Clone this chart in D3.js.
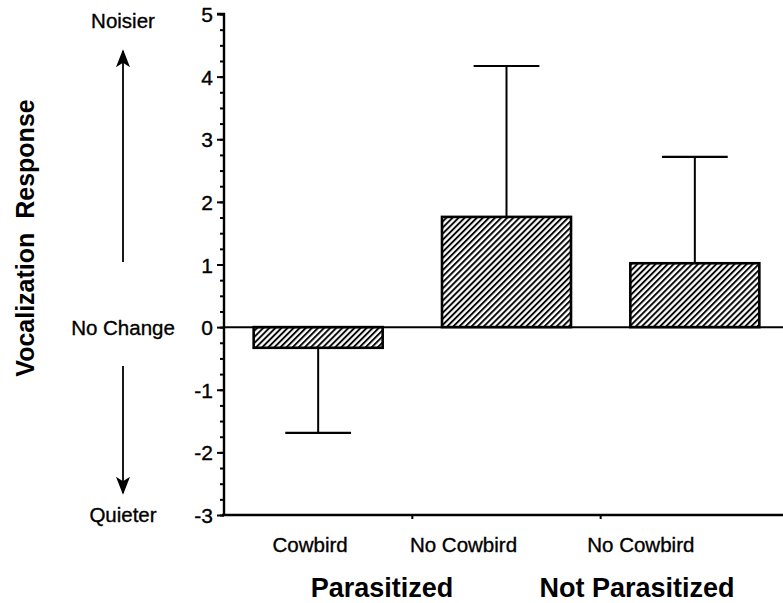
<!DOCTYPE html>
<html><head><meta charset="utf-8">
<script src="https://cdn.jsdelivr.net/npm/d3@7"></script>
<style>
html,body{margin:0;padding:0;background:#fff;}
text{font-family:"Liberation Sans",Arial,Helvetica,sans-serif;fill:#000;}
.reg{stroke:#000;stroke-width:0.35px;}
</style></head>
<body>
<svg id="chart" width="783" height="603"></svg>
<script>
// ---- data ----
const categories = ["Cowbird", "No Cowbird", "No Cowbird"];
const groups = ["Parasitized", "Not Parasitized"];
const means = [-0.33, 1.76, 1.02];
const errorEnds = [-1.69, 4.17, 2.72];
const yTicks = [-3, -2, -1, 0, 1, 2, 3, 4, 5];

// ---- layout ----
const svg = d3.select("#chart");
const y = d3.scaleLinear().domain([-3, 5]).range([515, 14]);
const x = d3.scaleBand().domain(d3.range(categories.length)).range([224, 789]).paddingInner(0).paddingOuter(0);
const barW = x.bandwidth() * 0.685;
const capW = barW * 0.51;

// hatch pattern
const defs = svg.append("defs");
const pat = defs.append("pattern").attr("id", "hatch")
  .attr("patternUnits", "userSpaceOnUse").attr("width", 4.3).attr("height", 10)
  .attr("patternTransform", "rotate(45)");
pat.append("rect").attr("width", 4.3).attr("height", 10).attr("fill", "#fff");
pat.append("line").attr("x1", 1).attr("x2", 1).attr("y1", 0).attr("y2", 10)
  .attr("stroke", "#000").attr("stroke-width", 1.9);

// error bars (drawn under bars)
const eb = svg.append("g");
categories.forEach((c, i) => {
  const cx = x(i) + x.bandwidth() / 2;
  eb.append("line").attr("x1", cx).attr("x2", cx)
    .attr("y1", y(means[i])).attr("y2", y(errorEnds[i]))
    .attr("stroke", "#000").attr("stroke-width", 2);
  eb.append("line").attr("x1", cx - capW / 2).attr("x2", cx + capW / 2)
    .attr("y1", y(errorEnds[i])).attr("y2", y(errorEnds[i]))
    .attr("stroke", "#000").attr("stroke-width", 2.2);
});

// bars
svg.append("g").selectAll("rect").data(means).join("rect")
  .attr("x", (d, i) => x(i) + (x.bandwidth() - barW) / 2)
  .attr("width", barW)
  .attr("y", d => Math.min(y(d), y(0)))
  .attr("height", d => Math.abs(y(d) - y(0)))
  .attr("fill", "url(#hatch)")
  .attr("stroke", "#000").attr("stroke-width", 2.6);

// zero line
svg.append("line").attr("x1", 224).attr("x2", 783).attr("y1", y(0)).attr("y2", y(0))
  .attr("stroke", "#000").attr("stroke-width", 2);

// y axis
const minorTicks = d3.range(-3, 5.001, 0.25);
const yAxisG = svg.append("g").attr("transform", "translate(224,0)")
  .call(d3.axisLeft(y).tickValues(minorTicks).tickSize(4).tickFormat(""));
yAxisG.selectAll("line").attr("stroke-width", 2);
yAxisG.select(".domain").remove();
const yMajor = svg.append("g").attr("transform", "translate(224,0)")
  .call(d3.axisLeft(y).tickValues(yTicks).tickSize(7).tickPadding(5).tickFormat(d => String(d)));
yMajor.select(".domain").attr("stroke-width", 2.4).attr("d", `M-7,${y(5)}H0V${y(-3)}`);
yMajor.selectAll("line").attr("stroke-width", 2);
yMajor.selectAll("text").attr("class", "reg").style("font-size", "21px")
  .style("font-family", "Liberation Sans, Arial, sans-serif")
  .attr("dy", "0.36em").attr("x", -11);

// x axis
const xAxisG = svg.append("g").attr("transform", `translate(0,${y(-3)})`);
xAxisG.append("line").attr("x1", 222).attr("x2", 783).attr("y1", 0).attr("y2", 0)
  .attr("stroke", "#000").attr("stroke-width", 2.4);
[1, 2].forEach(i => {
  xAxisG.append("line").attr("x1", x(i)).attr("x2", x(i)).attr("y1", 0).attr("y2", 4)
    .attr("stroke", "#000").attr("stroke-width", 2);
});

// category labels
const labelOffsets = [-8, -43, -54];
svg.append("g").selectAll("text").data(categories).join("text")
  .attr("class", "reg")
  .attr("x", (d, i) => x(i) + x.bandwidth() / 2 + labelOffsets[i])
  .attr("y", 552).attr("text-anchor", "middle")
  .style("font-size", "20.5px").text(d => d);

// group labels
const groupX = [382, 637];
svg.append("g").selectAll("text").data(groups).join("text")
  .attr("x", (d, i) => groupX[i]).attr("y", 597).attr("text-anchor", "middle")
  .style("font-size", "27px").style("font-weight", "bold").text(d => d);

// y title
svg.append("text").attr("transform", "translate(34,238) rotate(-90)")
  .attr("text-anchor", "middle").style("font-size", "25px").style("font-weight", "bold")
  .style("white-space", "pre")
  .text("Vocalization  Response");

// direction annotations
defs.append("marker").attr("id", "arr").attr("viewBox", "0 0 10 10")
  .attr("refX", 9).attr("refY", 5).attr("markerWidth", 18).attr("markerHeight", 14)
  .attr("markerUnits", "userSpaceOnUse").attr("orient", "auto")
  .attr("preserveAspectRatio", "none")
  .append("path").attr("d", "M0,0L10,5L0,10L2.5,5z").attr("fill", "#000");
const ax = 123;
svg.append("line").attr("x1", ax).attr("x2", ax).attr("y1", 262).attr("y2", 51)
  .attr("stroke", "#000").attr("stroke-width", 1.8).attr("marker-end", "url(#arr)");
svg.append("line").attr("x1", ax).attr("x2", ax).attr("y1", 366).attr("y2", 493)
  .attr("stroke", "#000").attr("stroke-width", 1.8).attr("marker-end", "url(#arr)");
const notes = [["Noisier", 28], ["No Change", 335], ["Quieter", 522]];
svg.append("g").selectAll("text").data(notes).join("text")
  .attr("class", "reg")
  .attr("x", ax).attr("y", d => d[1]).attr("text-anchor", "middle")
  .style("font-size", "20.5px").text(d => d[0]);
</script>
</body></html>
